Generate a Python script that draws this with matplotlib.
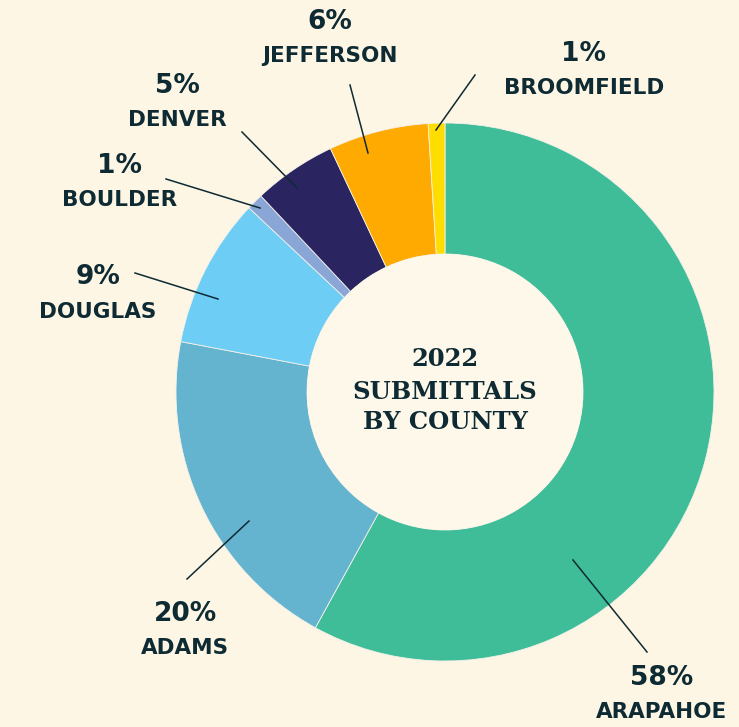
import matplotlib.pyplot as plt
from matplotlib.patches import Circle

counties = ['ARAPAHOE', 'ADAMS', 'DOUGLAS', 'BOULDER', 'DENVER', 'JEFFERSON', 'BROOMFIELD']
shares = [58, 20, 9, 1, 5, 6, 1]
colors = ['#3FBD98', '#65B4CF', '#6DCDF5', '#8AA6D6', '#2A2461', '#FFAA00', '#FFDD00']

# label placement in image pixels: (pct x, pct y, name y), leader line (x0, y0, x1, y1)
label_pos = {
    'ARAPAHOE': (662, 678, 712, (573, 560, 647, 652)),
    'ADAMS': (185, 614, 648, (249, 521, 187, 579)),
    'DOUGLAS': (98, 277, 312, (135, 273, 218, 299)),
    'BOULDER': (120, 166, 200, (166, 179, 260, 208)),
    'DENVER': (177, 86, 120, (242, 132, 297, 188)),
    'JEFFERSON': (330, 22, 56, (350, 85, 368, 153)),
    'BROOMFIELD': (584, 54, 88, (475, 75, 436, 130)),
}

W, H = 739, 727
bg = '#FDF6E5'
ink = '#0E2A33'

fig = plt.figure(figsize=(W / 100, H / 100), dpi=100, facecolor=bg)
ax = fig.add_axes([0, 0, 1, 1])

def fy(y):
    return H - y

cx, cy, r = 445, fy(392), 269
ax.pie(shares, colors=colors, startangle=90, counterclock=False,
       center=(cx, cy), radius=r, frame=True,
       wedgeprops=dict(width=r * 0.487, edgecolor='#F4F1EA', linewidth=0.6))
ax.set_xlim(0, W)
ax.set_ylim(0, H)
ax.set_aspect('equal')
ax.axis('off')
ax.add_patch(Circle((cx, cy), r * 0.513, facecolor='#FEF8EA', edgecolor='none', zorder=3))

for name, share in zip(counties, shares):
    px, py, ny, (x0, y0, x1, y1) = label_pos[name]
    ax.text(px, fy(py), f'{share}%', ha='center', va='center', fontsize=19,
            fontweight='bold', color=ink, family='DejaVu Sans')
    ax.text(px, fy(ny), name, ha='center', va='center', fontsize=15.5,
            fontweight='bold', color=ink, family='DejaVu Sans')
    ax.plot([x0, x1], [fy(y0), fy(y1)], color=ink, lw=1.1, zorder=5)

for txt, y in [('2022', 359), ('SUBMITTALS', 392), ('BY COUNTY', 422)]:
    ax.text(cx, fy(y), txt, ha='center', va='center', fontsize=17.5,
            fontweight='bold', color=ink, family='DejaVu Serif', zorder=6)

fig.savefig('out.png', dpi=100, facecolor=bg)
